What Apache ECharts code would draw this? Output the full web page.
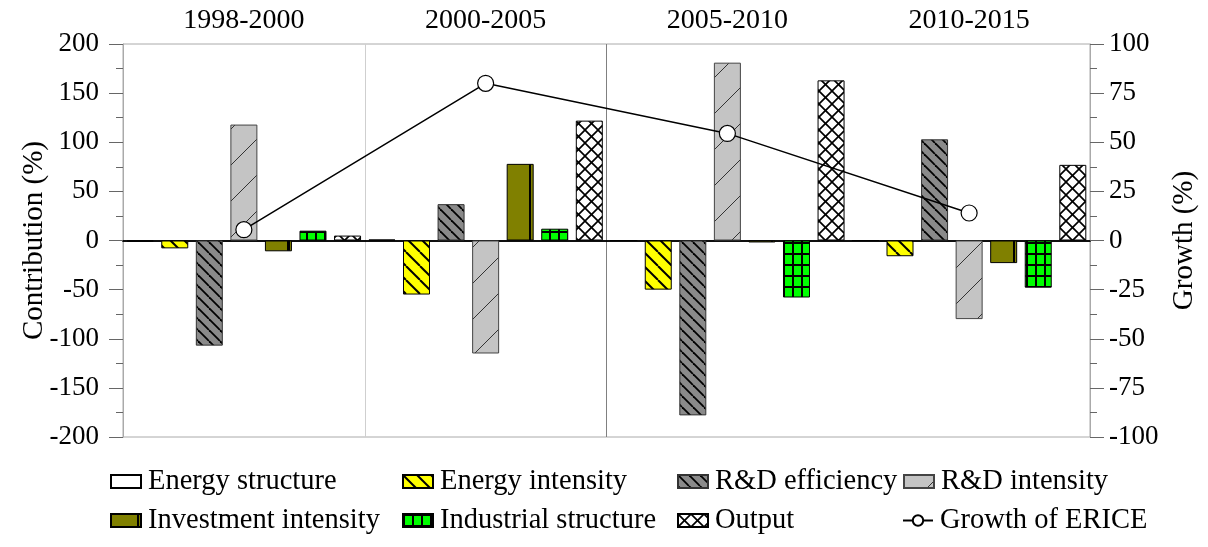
<!DOCTYPE html>
<html>
<head>
<meta charset="utf-8">
<script src="https://cdn.jsdelivr.net/npm/echarts@6/dist/echarts.min.js"></script>
<style>
html,body{margin:0;padding:0;background:#fff;}
#chart{width:1208px;height:547px;}
</style>
</head>
<body>
<div id="chart"></div>
<script>
// ---- data ----
const periods = ['1998-2000', '2000-2005', '2005-2010', '2010-2015'];
const seriesNames = ['Energy structure', 'Energy intensity', 'R&D efficiency', 'R&D intensity',
  'Investment intensity', 'Industrial structure', 'Output'];
const lineName = 'Growth of ERICE';
const energyStructure = [-1, 1, 0, 0];
const energyIntensity = [-8, -55, -50, -16];
const rdEfficiency = [-107, 37, -178, 103];
const rdIntensity = [118, -115, 181, -80];
const investmentIntensity = [-11, 78, -2, -23];
const industrialStructure = [10, 12, -58, -48];
const outputValues = [5, 122, 163, 77];
const growthERICE = [5.5, 80, 54.5, 14];
const leftTicks = {min: -200, max: 200, interval: 50};
const rightTicks = {min: -100, max: 100, interval: 25};

// ---- patterns ----
const FONT = '"Liberation Serif", "Times New Roman", serif';
function makePattern(w, h, bg, draw) {
  const c = document.createElement('canvas');
  c.width = w; c.height = h;
  const ctx = c.getContext('2d');
  ctx.fillStyle = bg; ctx.fillRect(0, 0, w, h);
  draw(ctx, w, h);
  return {image: c, repeat: 'repeat'};
}
function back(ctx, s, lw, col) {
  ctx.strokeStyle = col; ctx.lineWidth = lw;
  for (const k of [-s, 0, s]) { ctx.beginPath(); ctx.moveTo(k, 0); ctx.lineTo(k + s, s); ctx.stroke(); }
}
function fwd(ctx, s, lw, col) {
  ctx.strokeStyle = col; ctx.lineWidth = lw;
  for (const k of [0, s, 2 * s]) { ctx.beginPath(); ctx.moveTo(k, 0); ctx.lineTo(k - s, s); ctx.stroke(); }
}
const patYellow = makePattern(14, 14, '#ffff00', (c) => back(c, 14, 2, '#000'));
const patGray = makePattern(11, 11, '#8a8a8a', (c) => back(c, 11, 1.8, '#000'));
const patLight = makePattern(36, 36, '#c4c4c4', (c) => fwd(c, 36, 1, '#333'));
const patCross = makePattern(13, 13, '#ffffff', (c) => { back(c, 13, 1.7, '#000'); fwd(c, 13, 1.7, '#000'); });
const patGreen = makePattern(9, 11, '#00ff00', (c, w, h) => { c.fillStyle = '#000'; c.fillRect(0, 0, 2, h); c.fillRect(0, 0, w, 2); });
const gradOlive = {type: 'linear', x: 0, y: 0, x2: 1, y2: 0, colorStops: [
  {offset: 0, color: '#808000'}, {offset: 0.83, color: '#808000'},
  {offset: 0.83, color: '#000'}, {offset: 0.91, color: '#000'},
  {offset: 0.91, color: '#808000'}, {offset: 1, color: '#808000'}]};

const barDefs = [
  {data: energyStructure, color: '#ffffff', border: '#000'},
  {data: energyIntensity, color: patYellow, border: '#000'},
  {data: rdEfficiency, color: patGray, border: '#333'},
  {data: rdIntensity, color: patLight, border: '#444'},
  {data: investmentIntensity, color: gradOlive, border: '#000'},
  {data: industrialStructure, color: patGreen, border: '#000'},
  {data: outputValues, color: patCross, border: '#000'}
];

const series = barDefs.map((d, i) => ({
  name: seriesNames[i], type: 'bar', xAxisIndex: 0, yAxisIndex: 0,
  data: d.data, barWidth: 27, barGap: '28%',
  itemStyle: {color: d.color, borderColor: d.border, borderWidth: 1}
}));
series.push({
  name: lineName, type: 'line', xAxisIndex: 0, yAxisIndex: 1, data: growthERICE,
  symbol: 'circle', symbolSize: 16, z: 10,
  lineStyle: {color: '#000', width: 1.5},
  itemStyle: {color: '#fff', borderColor: '#000', borderWidth: 1.2}
});

const legendPos = [
  [110, 467], [402, 467], [677, 467], [903, 467],
  [110, 506], [402, 506], [677, 506], [902, 506]
];
const allNames = seriesNames.concat([lineName]);
const legends = allNames.map((n, i) => ({
  data: [n], left: legendPos[i][0], top: legendPos[i][1], padding: 0,
  itemWidth: 30, itemHeight: 13, selectedMode: false,
  icon: i < 7 ? 'rect' : undefined,
  textStyle: {fontFamily: FONT, fontSize: 28.5, color: '#000', padding: [0, 0, 0, 2]}
}));

const tickLabel = {fontFamily: FONT, fontSize: 27, color: '#000'};
const option = {
  animation: false,
  backgroundColor: '#fff',
  grid: {left: 123, right: 118, top: 44, bottom: 110, show: true, borderColor: '#aaa', borderWidth: 1},
  legend: legends,
  xAxis: [
    {type: 'category', data: periods, position: 'bottom',
      axisLine: {onZero: true, lineStyle: {color: '#000', width: 1.5}},
      axisTick: {show: false}, axisLabel: {show: false},
      splitLine: {show: true, lineStyle: {color: ['#aaa', '#cfcfcf', '#808080', 'rgba(0,0,0,0)', '#aaa'], width: 1}}},
    {type: 'category', data: periods, position: 'top',
      axisLine: {lineStyle: {color: '#000', width: 1.5}},
      axisTick: {show: false},
      axisLabel: Object.assign({margin: 9}, tickLabel, {fontSize: 28}),
      splitLine: {show: false}}
  ],
  yAxis: [
    {type: 'value', position: 'left', min: leftTicks.min, max: leftTicks.max, interval: leftTicks.interval,
      name: 'Contribution (%)', nameLocation: 'middle', nameGap: 74, nameRotate: 90, nameMoveOverlap: false,
      nameTextStyle: {fontFamily: FONT, fontSize: 29, color: '#000'},
      axisLine: {show: true, onZero: false, lineStyle: {color: '#aaa'}},
      axisTick: {show: true, length: 14, lineStyle: {color: '#666'}},
      minorTick: {show: true, splitNumber: 2, length: 7, lineStyle: {color: '#666'}},
      axisLabel: Object.assign({margin: 24}, tickLabel),
      splitLine: {show: false}},
    {type: 'value', position: 'right', min: rightTicks.min, max: rightTicks.max, interval: rightTicks.interval,
      name: 'Growth (%)', nameLocation: 'middle', nameGap: 78, nameRotate: 90,
      nameTextStyle: {fontFamily: FONT, fontSize: 29, color: '#000'},
      axisLine: {show: true, onZero: false, lineStyle: {color: '#aaa'}},
      axisTick: {show: true, length: 14, lineStyle: {color: '#666'}},
      minorTick: {show: true, splitNumber: 2, length: 7, lineStyle: {color: '#666'}},
      axisLabel: Object.assign({margin: 19}, tickLabel),
      splitLine: {show: false}}
  ],
  series: series
};
const chart = echarts.init(document.getElementById('chart'), null, {renderer: 'canvas'});
chart.setOption(option);
</script>
</body>
</html>
